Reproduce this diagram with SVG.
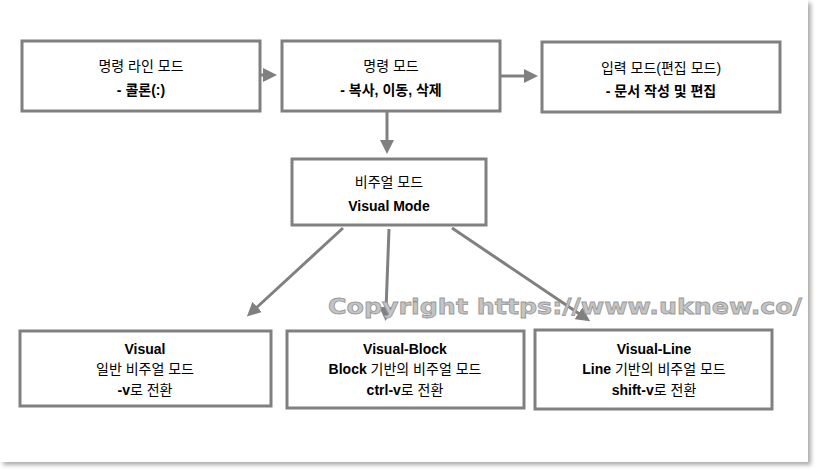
<svg xmlns="http://www.w3.org/2000/svg" width="817" height="471" viewBox="0 0 817 471">
<style>
.bx{fill:#fff;stroke:#808080;stroke-width:3}
.t{font-family:"Liberation Sans","Noto Sans CJK KR",sans-serif;font-size:14px;text-anchor:middle;fill:#000}
.b{font-weight:bold}
.c{stroke:#808080;stroke-width:3;fill:none;marker-end:url(#ah)}
</style>
<defs>
<marker id="ah" markerWidth="14" markerHeight="14" refX="3" refY="7" orient="auto" markerUnits="userSpaceOnUse"><path d="M0,0L14,7L0,14z" fill="#808080"/></marker>
<filter id="sh"><feDropShadow dx="3" dy="3" stdDeviation="2" flood-color="#888" flood-opacity="0.7"/></filter>
</defs>
<rect x="0" y="0" width="808" height="462" fill="#fff" filter="url(#sh)"/>
<g id="connectors">
<line class="c" x1="261" y1="75" x2="266" y2="75"/>
<line class="c" x1="501" y1="76" x2="527" y2="76"/>
<line class="c" x1="387" y1="112" x2="387" y2="143"/>
<line class="c" x1="343" y1="228" x2="255" y2="309"/>
<line class="c" x1="389" y1="229" x2="386" y2="310"/>
<line class="c" x1="452" y1="228" x2="581" y2="315"/>
</g>
<text x="328" y="314" font-family="DejaVu Sans,sans-serif" font-weight="bold" font-size="22" fill="#c4c4c4" stroke="#999" stroke-width="0.8" textLength="474" lengthAdjust="spacingAndGlyphs">Copyright  https://www.uknew.co/</text>
<g id="n1"><rect class="bx" x="22" y="41" width="238" height="70"/><text class="t" x="141" y="71">명령 라인 모드</text><text class="t b" x="141" y="95">- 콜론(:)</text></g>
<g id="n2"><rect class="bx" x="282" y="41" width="218" height="70"/><text class="t" x="391" y="71">명령 모드</text><text class="t b" x="391" y="95">- 복사, 이동, 삭제</text></g>
<g id="n3"><rect class="bx" x="542" y="42" width="238" height="70"/><text class="t" x="661" y="73">입력 모드(편집 모드)</text><text class="t b" x="661" y="96">- 문서 작성 및 편집</text></g>
<g id="n4"><rect class="bx" x="292" y="159" width="194" height="66"/><text class="t" x="389" y="187">비주얼 모드</text><text class="t b" x="389" y="211">Visual Mode</text></g>
<g id="n5"><rect class="bx" x="20" y="331" width="251" height="75"/><text class="t b" x="145" y="354">Visual</text><text class="t" x="145" y="374">일반 비주얼 모드</text><text class="t" x="145" y="395"><tspan class="b">-v</tspan>로 전환</text></g>
<g id="n6"><rect class="bx" x="287" y="331" width="237" height="77"/><text class="t b" x="405" y="354">Visual-Block</text><text class="t" x="405" y="374"><tspan class="b">Block</tspan> 기반의 비주얼 모드</text><text class="t" x="405" y="395"><tspan class="b">ctrl-v</tspan>로 전환</text></g>
<g id="n7"><rect class="bx" x="535" y="330" width="237" height="79"/><text class="t b" x="654" y="354">Visual-Line</text><text class="t" x="654" y="374"><tspan class="b">Line</tspan> 기반의 비주얼 모드</text><text class="t" x="654" y="395"><tspan class="b">shift-v</tspan>로 전환</text></g>
</svg>
